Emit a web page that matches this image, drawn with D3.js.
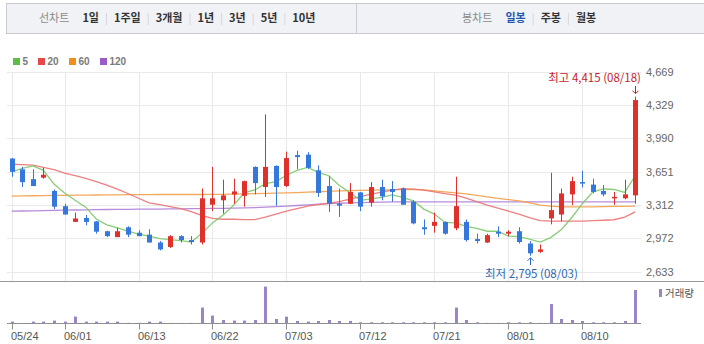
<!DOCTYPE html>
<html><head><meta charset="utf-8">
<script src="https://cdn.jsdelivr.net/npm/d3@7"></script>
<style>
body{margin:0;background:#fff;}
svg{display:block;}
</style></head><body>
<svg id="chart" width="704" height="344"></svg>
<script>
// Daily candles, 2023-05-24 .. 2023-08-18
const dates = ["05/24","05/25","05/26","05/30","05/31","06/01","06/02","06/05","06/07","06/08",
  "06/09","06/12","06/13","06/14","06/15","06/16","06/19","06/20","06/21","06/22",
  "06/23","06/26","06/27","06/28","06/29","06/30","07/03","07/04","07/05","07/06",
  "07/07","07/10","07/11","07/12","07/13","07/14","07/17","07/18","07/19","07/20",
  "07/21","07/24","07/25","07/26","07/27","07/28","07/31","08/01","08/02","08/03",
  "08/04","08/07","08/08","08/09","08/10","08/11","08/14","08/16","08/17","08/18"];
const opens  = [3785,3675,3575,3590,3455,3300,3140,3180,3145,3045,2985,3085,3030,3010,2930,2885,2995,2955,2930,3315,
  3360,3420,3405,3700,3495,3710,3505,3820,3825,3665,3505,3325,3325,3440,3335,3495,3475,3480,3345,3085,
  3100,3140,3075,3140,2965,2930,3040,3020,3045,2920,2835,3175,3215,3420,3545,3520,3455,3380,3380,3410];
const highs  = [3790,3700,3675,3690,3470,3325,3235,3210,3150,3050,3080,3095,3055,3065,2945,3005,3005,2995,3480,3700,
  3570,3580,3560,3705,4235,3715,3855,3865,3850,3715,3605,3480,3535,3445,3545,3570,3555,3490,3360,3165,
  3235,3145,3600,3165,3020,3020,3095,3055,3085,2945,2910,3640,3480,3600,3660,3580,3515,3445,3570,4415];
const lows   = [3600,3495,3505,3580,3270,3215,3140,3105,3020,2985,2985,2985,2995,2930,2850,2875,2930,2910,2910,3250,
  3225,3325,3295,3420,3395,3305,3495,3675,3680,3395,3240,3190,3320,3250,3295,3360,3345,3315,3115,3010,
  3030,3010,3055,2940,2920,2925,2985,2995,2920,2795,2825,3115,3145,3310,3490,3430,3400,3315,3370,3325];
const closes = [3650,3545,3505,3620,3295,3215,3175,3140,3040,2995,3045,3010,2995,2930,2860,2995,2955,2935,3380,3380,
  3410,3450,3555,3535,3700,3495,3790,3800,3690,3435,3325,3305,3445,3295,3495,3400,3445,3315,3125,3065,
  3140,3020,3300,2955,2945,3005,3020,3040,2935,2820,2860,3260,3430,3555,3530,3445,3420,3395,3420,4380];
const volumes = [51000,9000,51000,51000,81000,51000,201000,51000,51000,51000,51000,15000,15000,51000,51000,12000,12000,12000,471000,231000,
  99000,81000,81000,99000,1101000,129000,201000,69000,51000,69000,99000,69000,69000,30000,30000,30000,30000,30000,30000,30000,
  30000,30000,471000,99000,30000,12000,12000,30000,30000,30000,12000,579000,129000,99000,69000,30000,30000,30000,69000,999000];

// Moving averages as published with the quotes
const ma5   = [3650,3685,3710,3665,3525,3435,3360,3290,3170,3110,3080,3045,3015,2995,2970,2960,2950,2935,3025,3130,
  3210,3310,3435,3465,3530,3550,3615,3665,3695,3645,3610,3510,3440,3360,3375,3390,3415,3390,3355,3270,
  3220,3135,3130,3095,3075,3045,3045,2995,2990,2965,2935,2980,3060,3185,3325,3445,3475,3470,3440,3610];
const ma20  = [3727,3724,3717,3694,3671,3636,3610,3582,3550,3514,3473,3429,3381,3333,3315,3295,3274,3244,3203,3175,
  3167,3167,3164,3164,3188,3218,3249,3274,3300,3315,3330,3346,3371,3397,3422,3442,3463,3478,3473,3463,
  3445,3427,3412,3381,3346,3310,3280,3249,3218,3183,3152,3147,3147,3147,3147,3152,3157,3162,3188,3242];
const ma60  = [3402,3404,3406,3408,3410,3411,3412,3413,3414,3415,3416,3417,3418,3418,3419,3419,3419,3419,3419,3420,
  3421,3423,3425,3427,3430,3433,3436,3439,3443,3447,3451,3455,3458,3461,3463,3465,3467,3469,3470,3465,
  3455,3445,3435,3425,3410,3394,3380,3367,3354,3335,3310,3300,3293,3293,3293,3293,3295,3297,3298,3300];
const ma120 = [3249,3251,3253,3255,3257,3259,3261,3263,3265,3266,3267,3268,3269,3270,3271,3272,3273,3275,3276,3277,
  3278,3280,3282,3286,3290,3295,3300,3307,3314,3320,3327,3330,3333,3336,3339,3341,3343,3344,3344,3344,
  3344,3344,3344,3344,3344,3344,3344,3344,3344,3344,3344,3344,3344,3344,3344,3344,3344,3344,3344,3344];

const priceTicks = [4669, 4329, 3990, 3651, 3312, 2972, 2633];
const dateTicks = ["05/24","06/01","06/13","06/22","07/03","07/12","07/21","08/01","08/10"];
const lineTabs = ["1일","1주일","3개월","1년","3년","5년","10년"];
const candleTabs = ["일봉","주봉","월봉"];
const maNames = ["5","20","60","120"];
const maColors = ["#5cbf45","#e54848","#f28c1e","#9b5cc8"];
const maLineColors = ["#7cc868","#ec7272","#f2a04a","#b07fd6"];
const highLabel = "최고 4,415 (08/18)";
const lowLabel = "최저 2,795 (08/03)";

const svg = d3.select("#chart");
const KR = "'Noto Sans CJK KR','Noto Sans',sans-serif";
const NUM = "'Liberation Sans',Arial,sans-serif";
const idx = d3.range(dates.length);

// ---- toolbar ----
const bar = svg.append("g");
bar.append("rect").attr("x",6.5).attr("y",3.5).attr("width",700).attr("height",30)
  .attr("fill","#f1f2f6").attr("stroke","#c9cbd0");
bar.append("line").attr("x1",356.5).attr("x2",356.5).attr("y1",3.5).attr("y2",33.5).attr("stroke","#c9cbd0");

function tabs(x0, title, items, activeIdx, activeColor){
  const g = bar.append("g").attr("font-family",KR).attr("font-size",11);
  const t = g.append("text").attr("x",x0).attr("y",22).attr("fill","#8a8a8a").text(title);
  let x = x0 + t.node().getComputedTextLength() + 13;
  items.forEach((s,i)=>{
    if(i>0){
      g.append("line").attr("x1",x-7.5).attr("x2",x-7.5).attr("y1",13).attr("y2",25).attr("stroke","#d6d7dc");
    }
    const tt = g.append("text").attr("x",x).attr("y",22).attr("font-weight","bold")
      .attr("fill", i===activeIdx ? activeColor : "#333").text(s);
    x += tt.node().getComputedTextLength() + 15;
  });
}
tabs(39, "선차트", lineTabs, -1, "#333");
tabs(462, "봉차트", candleTabs, 0, "#2456b0");

// ---- scales ----
const x = d3.scaleLinear().domain([0, dates.length-1]).range([11.7, 635.2]);
const y = d3.scaleLinear().domain([2633, 4669]).range([271.7, 71.7]);
const yv = d3.scaleLinear().domain([0, 1200000]).range([323.3, 283.3]);

// ---- grid ----
const grid = svg.append("g").attr("stroke","#e9e9e9").attr("stroke-width",1);
grid.selectAll("line.h").data(priceTicks).join("line")
  .attr("x1",7).attr("x2",641).attr("y1",d=>Math.round(y(d))+0.5).attr("y2",d=>Math.round(y(d))+0.5);
grid.selectAll("line.v").data(dateTicks).join("line")
  .attr("x1",d=>Math.round(x(dates.indexOf(d)))+0.5).attr("x2",d=>Math.round(x(dates.indexOf(d)))+0.5)
  .attr("y1",Math.round(y(4669))+0.5).attr("y2",281);

// price axis labels
const yAxis = d3.axisRight(y).tickValues(priceTicks).tickSize(0).tickPadding(0).tickFormat(d3.format(","));
const ya = svg.append("g").attr("transform","translate(646,0)").call(yAxis);
ya.select(".domain").remove();
ya.selectAll("text").attr("font-family",NUM).attr("font-size",11).attr("fill","#666");

// ---- legend ----
const leg = svg.append("g").attr("font-family",NUM).attr("font-size",10).attr("font-weight","bold").attr("fill","#7a7a7a");
const legX = [13,38,69,100];
maNames.forEach((n,i)=>{
  leg.append("rect").attr("x",legX[i]).attr("y",58).attr("width",7).attr("height",7).attr("fill",maColors[i]);
  leg.append("text").attr("x",legX[i]+9.5).attr("y",65).text(n);
});

// ---- moving averages ----
const mas = [ma120, ma60, ma20, ma5];
const masCol = [maLineColors[3], maLineColors[2], maLineColors[1], maLineColors[0]];
mas.forEach((arr,k)=>{
  svg.append("path").datum(idx)
    .attr("fill","none").attr("stroke",masCol[k]).attr("stroke-width",1.3).attr("opacity",0.9)
    .attr("d", d3.line().x(i=>x(i)).y(i=>y(arr[i])));
});

// ---- candles ----
const up = "#e0302c", down = "#3478db";
const cg = svg.append("g");
cg.selectAll("line.wick").data(idx).join("line")
  .attr("x1",i=>Math.round(x(i))+0.5).attr("x2",i=>Math.round(x(i))+0.5)
  .attr("y1",i=>y(highs[i])).attr("y2",i=>y(lows[i]))
  .attr("stroke",i=>closes[i]>=opens[i]?up:down).attr("stroke-width",1);
cg.selectAll("rect.body").data(idx).join("rect")
  .attr("x",i=>Math.round(x(i))-2).attr("width",5)
  .attr("y",i=>y(Math.max(opens[i],closes[i])))
  .attr("height",i=>Math.max(1.5, Math.abs(y(opens[i])-y(closes[i]))))
  .attr("fill",i=>closes[i]>=opens[i]?up:down);

// ---- high / low markers ----
const hi = highs.indexOf(d3.max(highs)), lo = lows.indexOf(d3.min(lows));
svg.append("text").attr("x",641).attr("y",81.5).attr("text-anchor","end")
  .attr("font-family",KR).attr("font-size",11.5).attr("fill","#c8232b").text(highLabel);
const hx = Math.round(x(hi))+0.5;
svg.append("path").attr("d",`M${hx},86V${y(highs[hi])-3}M${hx-3},${y(highs[hi])-6}L${hx},${y(highs[hi])-3}L${hx+3},${y(highs[hi])-6}`)
  .attr("stroke","#c8232b").attr("fill","none");
svg.append("text").attr("x",485).attr("y",277.5)
  .attr("font-family",KR).attr("font-size",11.5).attr("fill","#2a68b5").text(lowLabel);
const lx = Math.round(x(lo))+0.5;
svg.append("path").attr("d",`M${lx},265V${y(lows[lo])+2}M${lx-3},${y(lows[lo])+5}L${lx},${y(lows[lo])+2}L${lx+3},${y(lows[lo])+5}`)
  .attr("stroke","#2a68b5").attr("fill","none");

// ---- separator and volume ----
svg.append("line").attr("x1",0).attr("x2",704).attr("y1",281.5).attr("y2",281.5).attr("stroke","#9a9a9a");
svg.append("line").attr("x1",7).attr("x2",641).attr("y1",323.5).attr("y2",323.5).attr("stroke","#8f8f8f");
svg.append("g").selectAll("rect").data(idx).join("rect")
  .attr("x",i=>Math.round(x(i))-1).attr("width",3)
  .attr("y",i=>yv(volumes[i])).attr("height",i=>323.3-yv(volumes[i]))
  .attr("fill","#9a86c4");
svg.append("rect").attr("x",659).attr("y",289).attr("width",3).attr("height",8).attr("fill","#9a86c4");
svg.append("text").attr("x",665).attr("y",297).attr("font-family",KR).attr("font-size",10.5).attr("fill","#555").text("거래량");

// date axis
const xa = svg.append("g").attr("transform","translate(0,323.5)");
dateTicks.forEach(d=>{
  const px = Math.round(x(dates.indexOf(d)))+0.5;
  xa.append("line").attr("x1",px).attr("x2",px).attr("y1",0).attr("y2",6).attr("stroke","#8f8f8f");
  xa.append("text").attr("x",px-1.5).attr("y",16.5).attr("font-family",NUM).attr("font-size",11)
    .attr("fill","#555").text(d);
});
</script>
</body></html>
